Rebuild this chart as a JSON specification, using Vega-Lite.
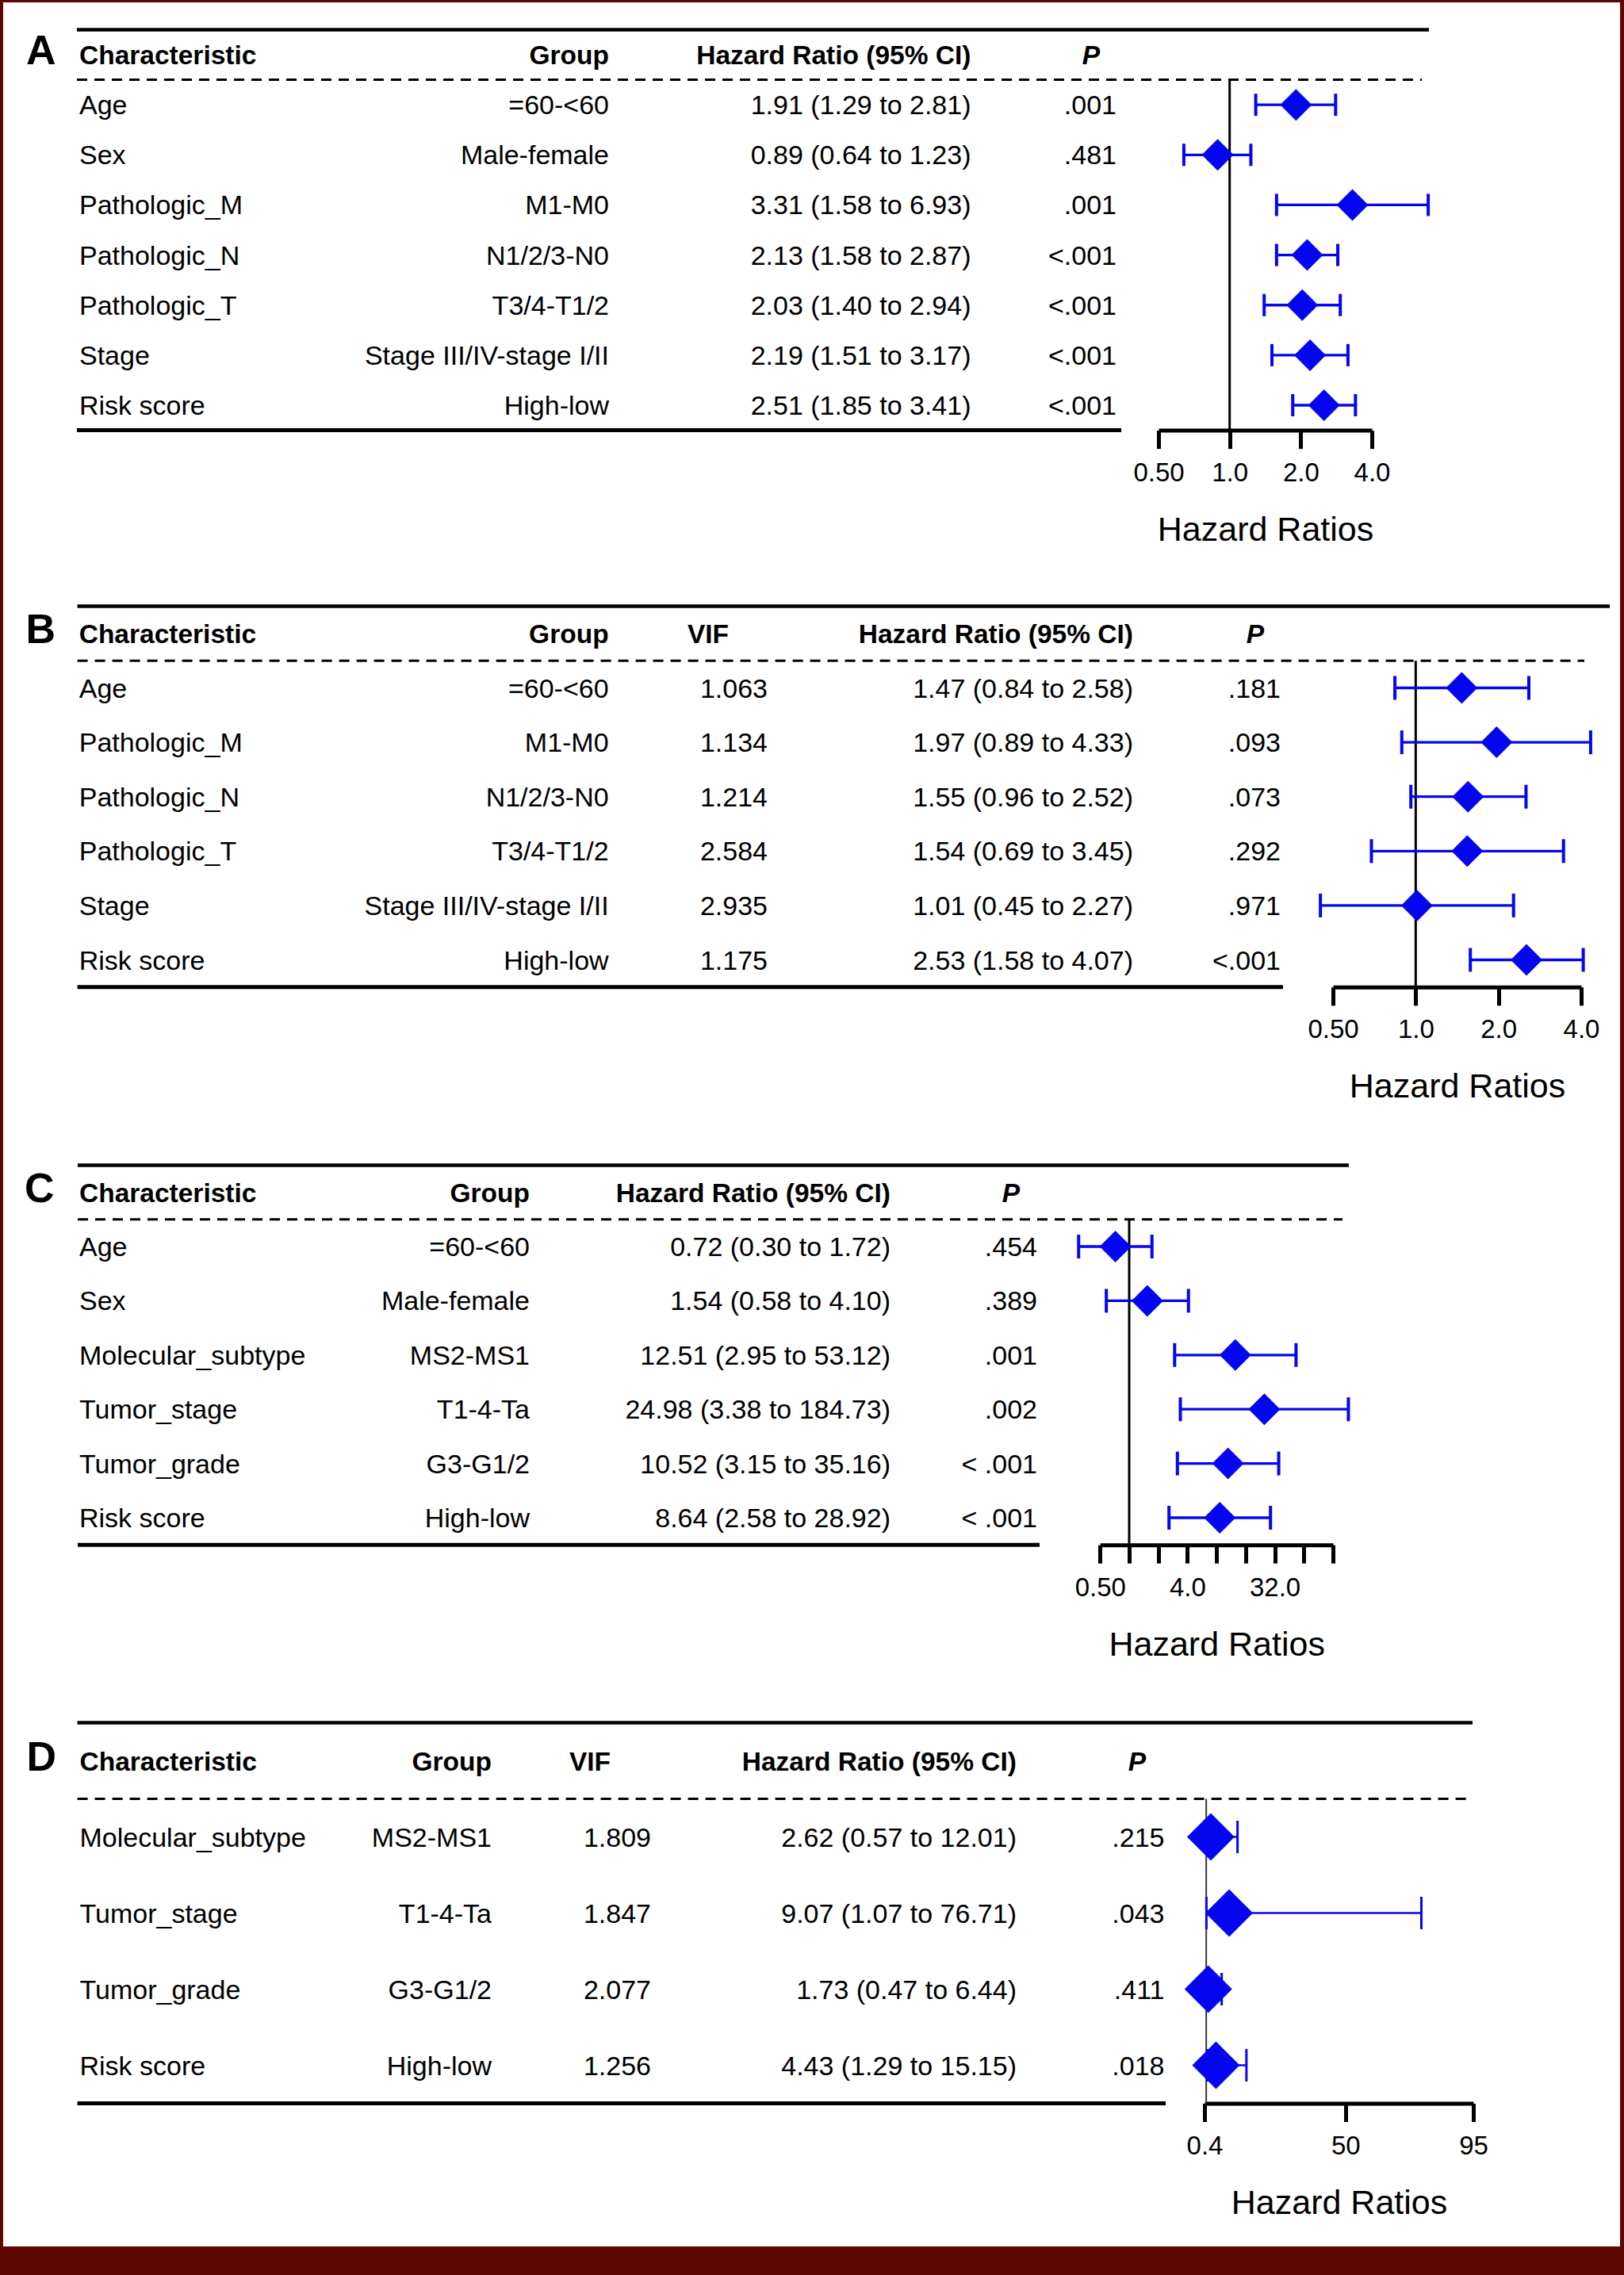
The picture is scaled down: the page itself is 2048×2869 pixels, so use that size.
{
  "$schema": "https://vega.github.io/schema/vega-lite/v6.json",
  "background": "#5e0600",
  "padding": {"left": 4, "top": 3, "right": 5, "bottom": 36},
  "spacing": 0,
  "bounds": "flush",
  "config": {
    "view": {"fill": "white", "stroke": null},
    "text": {"font": "Liberation Sans", "fontSize": 34, "color": "black", "baseline": "middle", "dy": 2},
    "axis": {"labelFont": "Liberation Sans", "titleFont": "Liberation Sans", "labelColor": "black", "titleColor": "black", "domainColor": "black", "tickColor": "black", "domainWidth": 5, "tickWidth": 5, "tickSize": 23, "labelFontSize": 33, "labelPadding": 15, "titleFontSize": 43, "titleFontWeight": "normal", "titlePadding": 34, "grid": false, "labelOverlap": false, "labelFlush": false, "labelBound": false}
  },
  "datasets": {
    "A": [
      {"Characteristic": "Age", "Group": "=60-<60", "HRCI": "1.91 (1.29 to 2.81)", "P": ".001", "HR": 1.91, "Lower": 1.29, "Upper": 2.81},
      {"Characteristic": "Sex", "Group": "Male-female", "HRCI": "0.89 (0.64 to 1.23)", "P": ".481", "HR": 0.89, "Lower": 0.64, "Upper": 1.23},
      {"Characteristic": "Pathologic_M", "Group": "M1-M0", "HRCI": "3.31 (1.58 to 6.93)", "P": ".001", "HR": 3.31, "Lower": 1.58, "Upper": 6.93},
      {"Characteristic": "Pathologic_N", "Group": "N1/2/3-N0", "HRCI": "2.13 (1.58 to 2.87)", "P": "<.001", "HR": 2.13, "Lower": 1.58, "Upper": 2.87},
      {"Characteristic": "Pathologic_T", "Group": "T3/4-T1/2", "HRCI": "2.03 (1.40 to 2.94)", "P": "<.001", "HR": 2.03, "Lower": 1.40, "Upper": 2.94},
      {"Characteristic": "Stage", "Group": "Stage III/IV-stage I/II", "HRCI": "2.19 (1.51 to 3.17)", "P": "<.001", "HR": 2.19, "Lower": 1.51, "Upper": 3.17},
      {"Characteristic": "Risk score", "Group": "High-low", "HRCI": "2.51 (1.85 to 3.41)", "P": "<.001", "HR": 2.51, "Lower": 1.85, "Upper": 3.41}
    ],
    "B": [
      {"Characteristic": "Age", "Group": "=60-<60", "VIF": "1.063", "HRCI": "1.47 (0.84 to 2.58)", "P": ".181", "HR": 1.47, "Lower": 0.84, "Upper": 2.58},
      {"Characteristic": "Pathologic_M", "Group": "M1-M0", "VIF": "1.134", "HRCI": "1.97 (0.89 to 4.33)", "P": ".093", "HR": 1.97, "Lower": 0.89, "Upper": 4.33},
      {"Characteristic": "Pathologic_N", "Group": "N1/2/3-N0", "VIF": "1.214", "HRCI": "1.55 (0.96 to 2.52)", "P": ".073", "HR": 1.55, "Lower": 0.96, "Upper": 2.52},
      {"Characteristic": "Pathologic_T", "Group": "T3/4-T1/2", "VIF": "2.584", "HRCI": "1.54 (0.69 to 3.45)", "P": ".292", "HR": 1.54, "Lower": 0.69, "Upper": 3.45},
      {"Characteristic": "Stage", "Group": "Stage III/IV-stage I/II", "VIF": "2.935", "HRCI": "1.01 (0.45 to 2.27)", "P": ".971", "HR": 1.01, "Lower": 0.45, "Upper": 2.27},
      {"Characteristic": "Risk score", "Group": "High-low", "VIF": "1.175", "HRCI": "2.53 (1.58 to 4.07)", "P": "<.001", "HR": 2.53, "Lower": 1.58, "Upper": 4.07}
    ],
    "C": [
      {"Characteristic": "Age", "Group": "=60-<60", "HRCI": "0.72 (0.30 to 1.72)", "P": ".454", "HR": 0.72, "Lower": 0.30, "Upper": 1.72},
      {"Characteristic": "Sex", "Group": "Male-female", "HRCI": "1.54 (0.58 to 4.10)", "P": ".389", "HR": 1.54, "Lower": 0.58, "Upper": 4.10},
      {"Characteristic": "Molecular_subtype", "Group": "MS2-MS1", "HRCI": "12.51 (2.95 to 53.12)", "P": ".001", "HR": 12.51, "Lower": 2.95, "Upper": 53.12},
      {"Characteristic": "Tumor_stage", "Group": "T1-4-Ta", "HRCI": "24.98 (3.38 to 184.73)", "P": ".002", "HR": 24.98, "Lower": 3.38, "Upper": 184.73},
      {"Characteristic": "Tumor_grade", "Group": "G3-G1/2", "HRCI": "10.52 (3.15 to 35.16)", "P": "< .001", "HR": 10.52, "Lower": 3.15, "Upper": 35.16},
      {"Characteristic": "Risk score", "Group": "High-low", "HRCI": "8.64 (2.58 to 28.92)", "P": "< .001", "HR": 8.64, "Lower": 2.58, "Upper": 28.92}
    ],
    "D": [
      {"Characteristic": "Molecular_subtype", "Group": "MS2-MS1", "VIF": "1.809", "HRCI": "2.62 (0.57 to 12.01)", "P": ".215", "HR": 2.62, "Lower": 0.57, "Upper": 12.01},
      {"Characteristic": "Tumor_stage", "Group": "T1-4-Ta", "VIF": "1.847", "HRCI": "9.07 (1.07 to 76.71)", "P": ".043", "HR": 9.07, "Lower": 1.07, "Upper": 76.71},
      {"Characteristic": "Tumor_grade", "Group": "G3-G1/2", "VIF": "2.077", "HRCI": "1.73 (0.47 to 6.44)", "P": ".411", "HR": 1.73, "Lower": 0.47, "Upper": 6.44},
      {"Characteristic": "Risk score", "Group": "High-low", "VIF": "1.256", "HRCI": "4.43 (1.29 to 15.15)", "P": ".018", "HR": 4.43, "Lower": 1.29, "Upper": 15.15}
    ]
  },
  "vconcat": [
    {
      "width": 2039, "height": 727,
      "data": {"name": "A"},
      "resolve": {"scale": {"x": "independent"}},
      "layer": [
        {"layer": [
          {"data": {"values": [{}]}, "mark": {"type": "rule", "strokeWidth": 4.5, "color": "black"},
           "encoding": {
             "x": {"datum": 1, "type": "quantitative", "axis": null, "scale": {"domain": [0,1,2,3,4,5,6,7,8,9,10,11], "range": [29, 93, 96, 764, 800, 810, 1220.5, 1383, 1404, 1410, 1789, 1798], "nice": false, "zero": false}},
             "x2": {"datum": 11},
             "y": {"datum": "Characteristic", "type": "nominal", "bandPosition": 0, "axis": null, "scale": {"type": "band", "domain": ["Characteristic", "Age", "Sex", "Pathologic_M", "Pathologic_N", "Pathologic_T", "Stage", "Risk score"], "range": [34.4, 539.6], "paddingInner": 0, "paddingOuter": 0}}
           }},
          {"data": {"values": [{}]}, "mark": {"type": "rule", "strokeWidth": 3, "strokeDash": [13, 9], "color": "black"},
           "encoding": {"x": {"datum": 1, "type": "quantitative", "axis": null}, "x2": {"datum": 10}, "y": {"datum": "Characteristic", "type": "nominal", "bandPosition": 1, "axis": null}}},
          {"data": {"values": [{}]}, "mark": {"type": "rule", "strokeWidth": 5, "color": "black"},
           "encoding": {"x": {"datum": 1, "type": "quantitative", "axis": null}, "x2": {"datum": 9}, "y": {"datum": "Risk score", "type": "nominal", "bandPosition": 1, "axis": null}}},
          {"data": {"values": [{}]}, "mark": {"type": "text", "align": "left", "fontSize": 52, "fontWeight": "bold", "dy": -3.6},
           "encoding": {"x": {"datum": 0, "type": "quantitative", "axis": null}, "y": {"datum": "Characteristic", "type": "nominal", "axis": null}, "text": {"value": "A"}}},
          {"data": {"values": [{}]}, "mark": {"type": "text", "align": "left", "fontSize": 33.5, "fontWeight": "bold"},
           "encoding": {"x": {"datum": 2, "type": "quantitative", "axis": null}, "y": {"datum": "Characteristic", "type": "nominal", "axis": null}, "text": {"value": "Characteristic"}}},
          {"data": {"values": [{}]}, "mark": {"type": "text", "align": "right", "fontSize": 33.5, "fontWeight": "bold"},
           "encoding": {"x": {"datum": 3, "type": "quantitative", "axis": null}, "y": {"datum": "Characteristic", "type": "nominal", "axis": null}, "text": {"value": "Group"}}},
          {"data": {"values": [{}]}, "mark": {"type": "text", "align": "right", "fontSize": 33.5, "fontWeight": "bold"},
           "encoding": {"x": {"datum": 6, "type": "quantitative", "axis": null}, "y": {"datum": "Characteristic", "type": "nominal", "axis": null}, "text": {"value": "Hazard Ratio (95% CI)"}}},
          {"data": {"values": [{}]}, "mark": {"type": "text", "align": "right", "fontSize": 33.5, "fontWeight": "bold", "fontStyle": "italic"},
           "encoding": {"x": {"datum": 7, "type": "quantitative", "axis": null}, "y": {"datum": "Characteristic", "type": "nominal", "axis": null}, "text": {"value": "P"}}},
          {"mark": {"type": "text", "align": "left"},
           "encoding": {"x": {"datum": 2, "type": "quantitative", "axis": null}, "y": {"field": "Characteristic", "type": "nominal", "axis": null}, "text": {"field": "Characteristic"}}},
          {"mark": {"type": "text", "align": "right"},
           "encoding": {"x": {"datum": 3, "type": "quantitative", "axis": null}, "y": {"field": "Characteristic", "type": "nominal", "axis": null}, "text": {"field": "Group"}}},
          {"mark": {"type": "text", "align": "right"},
           "encoding": {"x": {"datum": 6, "type": "quantitative", "axis": null}, "y": {"field": "Characteristic", "type": "nominal", "axis": null}, "text": {"field": "HRCI"}}},
          {"mark": {"type": "text", "align": "right"},
           "encoding": {"x": {"datum": 8, "type": "quantitative", "axis": null}, "y": {"field": "Characteristic", "type": "nominal", "axis": null}, "text": {"field": "P"}}}
        ]},
        {"layer": [
          {"data": {"values": [{}]}, "mark": {"type": "rule", "strokeWidth": 3, "color": "black"},
           "encoding": {
             "x": {"datum": 1, "type": "quantitative", "title": "Hazard Ratios", "scale": {"type": "log", "domain": [0.5, 4], "range": [1457, 1726], "nice": false},
                   "axis": {"values": [0.5, 1, 2, 4], "labelExpr": "datum.value < 1 ? format(datum.value, '.2f') : format(datum.value, '.1f')", "offset": -187.4}},
             "y": {"datum": "Characteristic", "type": "nominal", "bandPosition": 1, "axis": null},
             "y2": {"datum": "Risk score", "bandPosition": 1}
           }},
          {"mark": {"type": "rule", "strokeWidth": 3.3, "color": "#0505f0"},
           "encoding": {"x": {"field": "Lower", "type": "quantitative", "title": "Hazard Ratios"}, "x2": {"field": "Upper"}, "y": {"field": "Characteristic", "type": "nominal", "axis": null}}},
          {"mark": {"type": "tick", "orient": "vertical", "size": 28, "thickness": 4, "color": "#0505f0", "opacity": 1},
           "encoding": {"x": {"field": "Lower", "type": "quantitative", "title": "Hazard Ratios"}, "y": {"field": "Characteristic", "type": "nominal", "axis": null}}},
          {"mark": {"type": "tick", "orient": "vertical", "size": 28, "thickness": 4, "color": "#0505f0", "opacity": 1},
           "encoding": {"x": {"field": "Upper", "type": "quantitative", "title": "Hazard Ratios"}, "y": {"field": "Characteristic", "type": "nominal", "axis": null}}},
          {"mark": {"type": "point", "shape": "diamond", "filled": true, "size": 1600, "color": "#0505f0", "opacity": 1, "strokeWidth": 0},
           "encoding": {"x": {"field": "HR", "type": "quantitative", "title": "Hazard Ratios"}, "y": {"field": "Characteristic", "type": "nominal", "axis": null}}}
        ]}
      ]
    },
    {
      "width": 2039, "height": 700,
      "data": {"name": "B"},
      "resolve": {"scale": {"x": "independent"}},
      "layer": [
        {"layer": [
          {"data": {"values": [{}]}, "mark": {"type": "rule", "strokeWidth": 4.5, "color": "black"},
           "encoding": {
             "x": {"datum": 1, "type": "quantitative", "axis": null, "scale": {"domain": [0,1,2,3,4,5,6,7,8,9,10,11], "range": [28.5, 93.6, 95.7, 763.6, 915, 964, 1425, 1590, 1611, 1614, 1994, 2026], "nice": false, "zero": false}},
             "x2": {"datum": 11},
             "y": {"datum": "Characteristic", "type": "nominal", "bandPosition": 0, "axis": null, "scale": {"type": "band", "domain": ["Characteristic", "Age", "Pathologic_M", "Pathologic_N", "Pathologic_T", "Stage", "Risk score"], "range": [34.6, 514.8], "paddingInner": 0, "paddingOuter": 0}}
           }},
          {"data": {"values": [{}]}, "mark": {"type": "rule", "strokeWidth": 3, "strokeDash": [13, 9], "color": "black"},
           "encoding": {"x": {"datum": 1, "type": "quantitative", "axis": null}, "x2": {"datum": 10}, "y": {"datum": "Characteristic", "type": "nominal", "bandPosition": 1, "axis": null}}},
          {"data": {"values": [{}]}, "mark": {"type": "rule", "strokeWidth": 5, "color": "black"},
           "encoding": {"x": {"datum": 1, "type": "quantitative", "axis": null}, "x2": {"datum": 9}, "y": {"datum": "Risk score", "type": "nominal", "bandPosition": 1, "axis": null}}},
          {"data": {"values": [{}]}, "mark": {"type": "text", "align": "left", "fontSize": 52, "fontWeight": "bold", "dy": -3.6},
           "encoding": {"x": {"datum": 0, "type": "quantitative", "axis": null}, "y": {"datum": "Characteristic", "type": "nominal", "axis": null}, "text": {"value": "B"}}},
          {"data": {"values": [{}]}, "mark": {"type": "text", "align": "left", "fontSize": 33.5, "fontWeight": "bold"},
           "encoding": {"x": {"datum": 2, "type": "quantitative", "axis": null}, "y": {"datum": "Characteristic", "type": "nominal", "axis": null}, "text": {"value": "Characteristic"}}},
          {"data": {"values": [{}]}, "mark": {"type": "text", "align": "right", "fontSize": 33.5, "fontWeight": "bold"},
           "encoding": {"x": {"datum": 3, "type": "quantitative", "axis": null}, "y": {"datum": "Characteristic", "type": "nominal", "axis": null}, "text": {"value": "Group"}}},
          {"data": {"values": [{}]}, "mark": {"type": "text", "align": "right", "fontSize": 33.5, "fontWeight": "bold"},
           "encoding": {"x": {"datum": 4, "type": "quantitative", "axis": null}, "y": {"datum": "Characteristic", "type": "nominal", "axis": null}, "text": {"value": "VIF"}}},
          {"data": {"values": [{}]}, "mark": {"type": "text", "align": "right", "fontSize": 33.5, "fontWeight": "bold"},
           "encoding": {"x": {"datum": 6, "type": "quantitative", "axis": null}, "y": {"datum": "Characteristic", "type": "nominal", "axis": null}, "text": {"value": "Hazard Ratio (95% CI)"}}},
          {"data": {"values": [{}]}, "mark": {"type": "text", "align": "right", "fontSize": 33.5, "fontWeight": "bold", "fontStyle": "italic"},
           "encoding": {"x": {"datum": 7, "type": "quantitative", "axis": null}, "y": {"datum": "Characteristic", "type": "nominal", "axis": null}, "text": {"value": "P"}}},
          {"mark": {"type": "text", "align": "left"},
           "encoding": {"x": {"datum": 2, "type": "quantitative", "axis": null}, "y": {"field": "Characteristic", "type": "nominal", "axis": null}, "text": {"field": "Characteristic"}}},
          {"mark": {"type": "text", "align": "right"},
           "encoding": {"x": {"datum": 3, "type": "quantitative", "axis": null}, "y": {"field": "Characteristic", "type": "nominal", "axis": null}, "text": {"field": "Group"}}},
          {"mark": {"type": "text", "align": "right"},
           "encoding": {"x": {"datum": 5, "type": "quantitative", "axis": null}, "y": {"field": "Characteristic", "type": "nominal", "axis": null}, "text": {"field": "VIF"}}},
          {"mark": {"type": "text", "align": "right"},
           "encoding": {"x": {"datum": 6, "type": "quantitative", "axis": null}, "y": {"field": "Characteristic", "type": "nominal", "axis": null}, "text": {"field": "HRCI"}}},
          {"mark": {"type": "text", "align": "right"},
           "encoding": {"x": {"datum": 8, "type": "quantitative", "axis": null}, "y": {"field": "Characteristic", "type": "nominal", "axis": null}, "text": {"field": "P"}}}
        ]},
        {"layer": [
          {"data": {"values": [{}]}, "mark": {"type": "rule", "strokeWidth": 3, "color": "black"},
           "encoding": {
             "x": {"datum": 1, "type": "quantitative", "title": "Hazard Ratios", "scale": {"type": "log", "domain": [0.5, 4], "range": [1677, 1990], "nice": false},
                   "axis": {"values": [0.5, 1, 2, 4], "labelExpr": "datum.value < 1 ? format(datum.value, '.2f') : format(datum.value, '.1f')", "offset": -185.2}},
             "y": {"datum": "Characteristic", "type": "nominal", "bandPosition": 1, "axis": null},
             "y2": {"datum": "Risk score", "bandPosition": 1}
           }},
          {"mark": {"type": "rule", "strokeWidth": 3.3, "color": "#0505f0"},
           "encoding": {"x": {"field": "Lower", "type": "quantitative", "title": "Hazard Ratios"}, "x2": {"field": "Upper"}, "y": {"field": "Characteristic", "type": "nominal", "axis": null}}},
          {"mark": {"type": "tick", "orient": "vertical", "size": 30, "thickness": 4, "color": "#0505f0", "opacity": 1},
           "encoding": {"x": {"field": "Lower", "type": "quantitative", "title": "Hazard Ratios"}, "y": {"field": "Characteristic", "type": "nominal", "axis": null}}},
          {"mark": {"type": "tick", "orient": "vertical", "size": 30, "thickness": 4, "color": "#0505f0", "opacity": 1},
           "encoding": {"x": {"field": "Upper", "type": "quantitative", "title": "Hazard Ratios"}, "y": {"field": "Characteristic", "type": "nominal", "axis": null}}},
          {"mark": {"type": "point", "shape": "diamond", "filled": true, "size": 1600, "color": "#0505f0", "opacity": 1, "strokeWidth": 0},
           "encoding": {"x": {"field": "HR", "type": "quantitative", "title": "Hazard Ratios"}, "y": {"field": "Characteristic", "type": "nominal", "axis": null}}}
        ]}
      ]
    },
    {
      "width": 2039, "height": 705,
      "data": {"name": "C"},
      "resolve": {"scale": {"x": "independent"}},
      "layer": [
        {"layer": [
          {"data": {"values": [{}]}, "mark": {"type": "rule", "strokeWidth": 4.5, "color": "black"},
           "encoding": {
             "x": {"datum": 1, "type": "quantitative", "axis": null, "scale": {"domain": [0,1,2,3,4,5,6,7,8,9,10,11], "range": [27, 94, 96, 664, 696, 716, 1119, 1282, 1304, 1307, 1689, 1697], "nice": false, "zero": false}},
             "x2": {"datum": 11},
             "y": {"datum": "Characteristic", "type": "nominal", "bandPosition": 0, "axis": null, "scale": {"type": "band", "domain": ["Characteristic", "Age", "Sex", "Molecular_subtype", "Tumor_stage", "Tumor_grade", "Risk score"], "range": [39.4, 518.2], "paddingInner": 0, "paddingOuter": 0}}
           }},
          {"data": {"values": [{}]}, "mark": {"type": "rule", "strokeWidth": 3, "strokeDash": [13, 9], "color": "black"},
           "encoding": {"x": {"datum": 1, "type": "quantitative", "axis": null}, "x2": {"datum": 10}, "y": {"datum": "Characteristic", "type": "nominal", "bandPosition": 1, "axis": null}}},
          {"data": {"values": [{}]}, "mark": {"type": "rule", "strokeWidth": 5, "color": "black"},
           "encoding": {"x": {"datum": 1, "type": "quantitative", "axis": null}, "x2": {"datum": 9}, "y": {"datum": "Risk score", "type": "nominal", "bandPosition": 1, "axis": null}}},
          {"data": {"values": [{}]}, "mark": {"type": "text", "align": "left", "fontSize": 52, "fontWeight": "bold", "dy": -3.6},
           "encoding": {"x": {"datum": 0, "type": "quantitative", "axis": null}, "y": {"datum": "Characteristic", "type": "nominal", "axis": null}, "text": {"value": "C"}}},
          {"data": {"values": [{}]}, "mark": {"type": "text", "align": "left", "fontSize": 33.5, "fontWeight": "bold"},
           "encoding": {"x": {"datum": 2, "type": "quantitative", "axis": null}, "y": {"datum": "Characteristic", "type": "nominal", "axis": null}, "text": {"value": "Characteristic"}}},
          {"data": {"values": [{}]}, "mark": {"type": "text", "align": "right", "fontSize": 33.5, "fontWeight": "bold"},
           "encoding": {"x": {"datum": 3, "type": "quantitative", "axis": null}, "y": {"datum": "Characteristic", "type": "nominal", "axis": null}, "text": {"value": "Group"}}},
          {"data": {"values": [{}]}, "mark": {"type": "text", "align": "right", "fontSize": 33.5, "fontWeight": "bold"},
           "encoding": {"x": {"datum": 6, "type": "quantitative", "axis": null}, "y": {"datum": "Characteristic", "type": "nominal", "axis": null}, "text": {"value": "Hazard Ratio (95% CI)"}}},
          {"data": {"values": [{}]}, "mark": {"type": "text", "align": "right", "fontSize": 33.5, "fontWeight": "bold", "fontStyle": "italic"},
           "encoding": {"x": {"datum": 7, "type": "quantitative", "axis": null}, "y": {"datum": "Characteristic", "type": "nominal", "axis": null}, "text": {"value": "P"}}},
          {"mark": {"type": "text", "align": "left"},
           "encoding": {"x": {"datum": 2, "type": "quantitative", "axis": null}, "y": {"field": "Characteristic", "type": "nominal", "axis": null}, "text": {"field": "Characteristic"}}},
          {"mark": {"type": "text", "align": "right"},
           "encoding": {"x": {"datum": 3, "type": "quantitative", "axis": null}, "y": {"field": "Characteristic", "type": "nominal", "axis": null}, "text": {"field": "Group"}}},
          {"mark": {"type": "text", "align": "right"},
           "encoding": {"x": {"datum": 6, "type": "quantitative", "axis": null}, "y": {"field": "Characteristic", "type": "nominal", "axis": null}, "text": {"field": "HRCI"}}},
          {"mark": {"type": "text", "align": "right"},
           "encoding": {"x": {"datum": 8, "type": "quantitative", "axis": null}, "y": {"field": "Characteristic", "type": "nominal", "axis": null}, "text": {"field": "P"}}}
        ]},
        {"layer": [
          {"data": {"values": [{}]}, "mark": {"type": "rule", "strokeWidth": 3, "color": "black"},
           "encoding": {
             "x": {"datum": 1, "type": "quantitative", "title": "Hazard Ratios", "scale": {"type": "log", "domain": [0.5, 128], "range": [1383.3, 1677], "nice": false},
                   "axis": {"values": [0.5, 1, 2, 4, 8, 16, 32, 64, 128], "labelExpr": "datum.value == 0.5 ? '0.50' : (datum.value == 4 || datum.value == 32 ? format(datum.value, '.1f') : '')", "labelDx": 9, "offset": -186.8}},
             "y": {"datum": "Characteristic", "type": "nominal", "bandPosition": 1, "axis": null},
             "y2": {"datum": "Risk score", "bandPosition": 1}
           }},
          {"mark": {"type": "rule", "strokeWidth": 3.3, "color": "#0505f0"},
           "encoding": {"x": {"field": "Lower", "type": "quantitative", "title": "Hazard Ratios"}, "x2": {"field": "Upper"}, "y": {"field": "Characteristic", "type": "nominal", "axis": null}}},
          {"mark": {"type": "tick", "orient": "vertical", "size": 30, "thickness": 4, "color": "#0505f0", "opacity": 1},
           "encoding": {"x": {"field": "Lower", "type": "quantitative", "title": "Hazard Ratios"}, "y": {"field": "Characteristic", "type": "nominal", "axis": null}}},
          {"mark": {"type": "tick", "orient": "vertical", "size": 30, "thickness": 4, "color": "#0505f0", "opacity": 1},
           "encoding": {"x": {"field": "Upper", "type": "quantitative", "title": "Hazard Ratios"}, "y": {"field": "Characteristic", "type": "nominal", "axis": null}}},
          {"mark": {"type": "point", "shape": "diamond", "filled": true, "size": 1600, "color": "#0505f0", "opacity": 1, "strokeWidth": 0},
           "encoding": {"x": {"field": "HR", "type": "quantitative", "title": "Hazard Ratios"}, "y": {"field": "Characteristic", "type": "nominal", "axis": null}}}
        ]}
      ]
    },
    {
      "width": 2039, "height": 698,
      "data": {"name": "D"},
      "resolve": {"scale": {"x": "independent"}},
      "layer": [
        {"layer": [
          {"data": {"values": [{}]}, "mark": {"type": "rule", "strokeWidth": 4.5, "color": "black"},
           "encoding": {
             "x": {"datum": 1, "type": "quantitative", "axis": null, "scale": {"domain": [0,1,2,3,4,5,6,7,8,9,10,11], "range": [29.5, 93.6, 96.5, 616, 766, 817, 1278, 1441, 1464.5, 1466, 1846, 1853], "nice": false, "zero": false}},
             "x2": {"datum": 11},
             "y": {"datum": "Characteristic", "type": "nominal", "bandPosition": 0, "axis": null, "scale": {"type": "band", "domain": ["Characteristic", "Molecular_subtype", "Tumor_stage", "Tumor_grade", "Risk score"], "range": [37.5, 517.5], "paddingInner": 0, "paddingOuter": 0}}
           }},
          {"data": {"values": [{}]}, "mark": {"type": "rule", "strokeWidth": 3, "strokeDash": [13, 9], "color": "black"},
           "encoding": {"x": {"datum": 1, "type": "quantitative", "axis": null}, "x2": {"datum": 10}, "y": {"datum": "Characteristic", "type": "nominal", "bandPosition": 1, "axis": null}}},
          {"data": {"values": [{}]}, "mark": {"type": "rule", "strokeWidth": 5, "color": "black"},
           "encoding": {"x": {"datum": 1, "type": "quantitative", "axis": null}, "x2": {"datum": 9}, "y": {"datum": "Risk score", "type": "nominal", "bandPosition": 1, "axis": null}}},
          {"data": {"values": [{}]}, "mark": {"type": "text", "align": "left", "fontSize": 52, "fontWeight": "bold", "dy": -3.6},
           "encoding": {"x": {"datum": 0, "type": "quantitative", "axis": null}, "y": {"datum": "Characteristic", "type": "nominal", "axis": null}, "text": {"value": "D"}}},
          {"data": {"values": [{}]}, "mark": {"type": "text", "align": "left", "fontSize": 33.5, "fontWeight": "bold"},
           "encoding": {"x": {"datum": 2, "type": "quantitative", "axis": null}, "y": {"datum": "Characteristic", "type": "nominal", "axis": null}, "text": {"value": "Characteristic"}}},
          {"data": {"values": [{}]}, "mark": {"type": "text", "align": "right", "fontSize": 33.5, "fontWeight": "bold"},
           "encoding": {"x": {"datum": 3, "type": "quantitative", "axis": null}, "y": {"datum": "Characteristic", "type": "nominal", "axis": null}, "text": {"value": "Group"}}},
          {"data": {"values": [{}]}, "mark": {"type": "text", "align": "right", "fontSize": 33.5, "fontWeight": "bold"},
           "encoding": {"x": {"datum": 4, "type": "quantitative", "axis": null}, "y": {"datum": "Characteristic", "type": "nominal", "axis": null}, "text": {"value": "VIF"}}},
          {"data": {"values": [{}]}, "mark": {"type": "text", "align": "right", "fontSize": 33.5, "fontWeight": "bold"},
           "encoding": {"x": {"datum": 6, "type": "quantitative", "axis": null}, "y": {"datum": "Characteristic", "type": "nominal", "axis": null}, "text": {"value": "Hazard Ratio (95% CI)"}}},
          {"data": {"values": [{}]}, "mark": {"type": "text", "align": "right", "fontSize": 33.5, "fontWeight": "bold", "fontStyle": "italic"},
           "encoding": {"x": {"datum": 7, "type": "quantitative", "axis": null}, "y": {"datum": "Characteristic", "type": "nominal", "axis": null}, "text": {"value": "P"}}},
          {"mark": {"type": "text", "align": "left"},
           "encoding": {"x": {"datum": 2, "type": "quantitative", "axis": null}, "y": {"field": "Characteristic", "type": "nominal", "axis": null}, "text": {"field": "Characteristic"}}},
          {"mark": {"type": "text", "align": "right"},
           "encoding": {"x": {"datum": 3, "type": "quantitative", "axis": null}, "y": {"field": "Characteristic", "type": "nominal", "axis": null}, "text": {"field": "Group"}}},
          {"mark": {"type": "text", "align": "right"},
           "encoding": {"x": {"datum": 5, "type": "quantitative", "axis": null}, "y": {"field": "Characteristic", "type": "nominal", "axis": null}, "text": {"field": "VIF"}}},
          {"mark": {"type": "text", "align": "right"},
           "encoding": {"x": {"datum": 6, "type": "quantitative", "axis": null}, "y": {"field": "Characteristic", "type": "nominal", "axis": null}, "text": {"field": "HRCI"}}},
          {"mark": {"type": "text", "align": "right"},
           "encoding": {"x": {"datum": 8, "type": "quantitative", "axis": null}, "y": {"field": "Characteristic", "type": "nominal", "axis": null}, "text": {"field": "P"}}}
        ]},
        {"layer": [
          {"data": {"values": [{}]}, "mark": {"type": "rule", "strokeWidth": 2, "color": "#333333"},
           "encoding": {
             "x": {"datum": 1, "type": "quantitative", "title": "Hazard Ratios", "scale": {"type": "linear", "domain": [0.4, 95], "range": [1515, 1854], "nice": false, "zero": false},
                   "axis": {"values": [0.4, 50, 95], "labelExpr": "format(datum.value, '~g')", "offset": -180.5}},
             "y": {"datum": "Characteristic", "type": "nominal", "bandPosition": 1, "axis": null},
             "y2": {"datum": "Risk score", "bandPosition": 1}
           }},
          {"mark": {"type": "rule", "strokeWidth": 2.5, "color": "#0505f0"},
           "encoding": {"x": {"field": "Lower", "type": "quantitative", "title": "Hazard Ratios"}, "x2": {"field": "Upper"}, "y": {"field": "Characteristic", "type": "nominal", "axis": null}}},
          {"mark": {"type": "tick", "orient": "vertical", "size": 41, "thickness": 3, "color": "#0505f0", "opacity": 1},
           "encoding": {"x": {"field": "Lower", "type": "quantitative", "title": "Hazard Ratios"}, "y": {"field": "Characteristic", "type": "nominal", "axis": null}}},
          {"mark": {"type": "tick", "orient": "vertical", "size": 41, "thickness": 3, "color": "#0505f0", "opacity": 1},
           "encoding": {"x": {"field": "Upper", "type": "quantitative", "title": "Hazard Ratios"}, "y": {"field": "Characteristic", "type": "nominal", "axis": null}}},
          {"mark": {"type": "point", "shape": "diamond", "filled": true, "size": 3600, "color": "#0505f0", "opacity": 1, "strokeWidth": 0},
           "encoding": {"x": {"field": "HR", "type": "quantitative", "title": "Hazard Ratios"}, "y": {"field": "Characteristic", "type": "nominal", "axis": null}}}
        ]}
      ]
    }
  ]
}
